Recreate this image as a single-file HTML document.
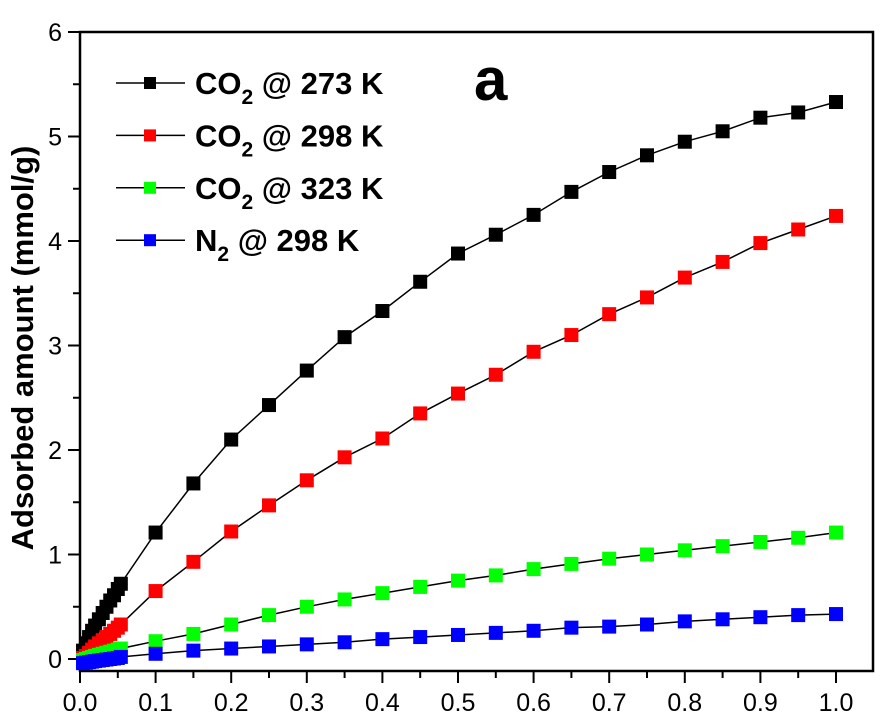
<!DOCTYPE html>
<html><head><meta charset="utf-8"><style>
html,body{margin:0;padding:0;background:#fff;}
svg{display:block;font-family:"Liberation Sans",Arial,sans-serif;}
</style></head><body>
<svg id="chart" width="896" height="720" viewBox="0 0 896 720" xmlns="http://www.w3.org/2000/svg"></svg>
<script>
const xTicks=[0,0.1,0.2,0.3,0.4,0.5,0.6,0.7,0.8,0.9,1.0];
const xTickLabels=["0.0","0.1","0.2","0.3","0.4","0.5","0.6","0.7","0.8","0.9","1.0"];
const yTicks=[0,1,2,3,4,5,6];
const yTickLabels=["0","1","2","3","4","5","6"];
const pHigh=[0.1,0.15,0.2,0.25,0.3,0.35,0.4,0.45,0.5,0.55,0.6,0.65,0.7,0.75,0.8,0.85,0.9,0.95,1.0];
const pLow=[0.004,0.008,0.012,0.016,0.02,0.025,0.03,0.035,0.04,0.045,0.05,0.054];
const co2_273_low=[0.08,0.15,0.21,0.27,0.32,0.38,0.44,0.5,0.56,0.61,0.67,0.72];
const co2_273_high=[1.21,1.68,2.1,2.43,2.76,3.08,3.33,3.61,3.88,4.06,4.25,4.47,4.66,4.82,4.95,5.05,5.18,5.23,5.33];
const co2_298_low=[0.01,0.03,0.06,0.09,0.12,0.15,0.18,0.21,0.24,0.27,0.3,0.33];
const co2_298_high=[0.65,0.93,1.22,1.47,1.71,1.93,2.11,2.35,2.54,2.72,2.94,3.1,3.3,3.46,3.65,3.8,3.98,4.11,4.24];
const co2_323_low=[-0.01,0.0,0.01,0.02,0.03,0.04,0.05,0.06,0.07,0.08,0.09,0.1];
const co2_323_high=[0.17,0.24,0.33,0.42,0.5,0.57,0.63,0.69,0.75,0.8,0.86,0.91,0.96,1.0,1.04,1.08,1.12,1.16,1.21];
const n2_low=[-0.04,-0.035,-0.03,-0.025,-0.02,-0.015,-0.01,-0.005,0.0,0.005,0.01,0.02];
const n2_high=[0.05,0.08,0.1,0.12,0.14,0.16,0.19,0.21,0.23,0.25,0.27,0.3,0.31,0.33,0.36,0.38,0.4,0.42,0.43];

const NS="http://www.w3.org/2000/svg";
const svg=document.getElementById('chart');
const L=80,R=873,T=32,B=671;
function sx(v){return 80+v*756;}
function sy(v){return 659-v*104.5;}
function mk(tag,attrs,parent){const e=document.createElementNS(NS,tag);for(const k in attrs)e.setAttribute(k,attrs[k]);(parent||svg).appendChild(e);return e;}

const frame=mk('rect',{x:L,y:T,width:R-L,height:B-T,fill:'none',stroke:'#000','stroke-width':2.5});



for(let i=0;i<xTicks.length;i++){
  const x=sx(xTicks[i]);
  const t=mk('line',{x1:x,y1:B,x2:x,y2:B+12,stroke:'#000','stroke-width':2});
  
  
  const tx=mk('text',{x:x,y:B+40,'font-size':25,'text-anchor':'middle',fill:'#000'});
  tx.textContent=xTickLabels[i];
  
  
  if(i<xTicks.length-1){
    const xm=sx(xTicks[i]+0.05);
    const m=mk('line',{x1:xm,y1:B,x2:xm,y2:B+7,stroke:'#000','stroke-width':2});
    
    
  }
}
for(let i=0;i<yTicks.length;i++){
  const y=sy(yTicks[i]);
  const t=mk('line',{x1:L-12,y1:y,x2:L,y2:y,stroke:'#000','stroke-width':2});
  
  
  const tx=mk('text',{x:L-18,y:y+9,'font-size':25,'text-anchor':'end',fill:'#000'});
  tx.textContent=yTickLabels[i];
  
  
  if(i<yTicks.length-1){
    const ym=sy(yTicks[i]+0.5);
    const m=mk('line',{x1:L-7,y1:ym,x2:L,y2:ym,stroke:'#000','stroke-width':2});
    
    
  }
}
const yt=mk('text',{x:0,y:0,'font-size':31,'font-weight':'bold','text-anchor':'middle',transform:'translate(33,348) rotate(-90)',fill:'#000'});
yt.textContent='Adsorbed amount (mmol/g)';



const series=[
 {name:'co2-273k',color:'#000',low:co2_273_low,high:co2_273_high},
 {name:'co2-298k',color:'#ff0000',low:co2_298_low,high:co2_298_high},
 {name:'co2-323k',color:'#00ff00',low:co2_323_low,high:co2_323_high},
 {name:'n2-298k',color:'#0000ff',low:n2_low,high:n2_high}
];
const S=14;
series.forEach(s=>{
  const g=mk('g',{});
  
  
  const xs=pLow.concat(pHigh), ys=s.low.concat(s.high);
  let d='M'+sx(0)+' '+sy(0);
  for(let i=0;i<xs.length;i++) d+=' L'+sx(xs[i]).toFixed(1)+' '+sy(ys[i]).toFixed(1);
  const ln=mk('path',{d:d,fill:'none',stroke:'#000','stroke-width':1.5},g);
  
  
  for(let i=0;i<xs.length;i++){
    const r=mk('rect',{x:sx(xs[i])-S/2,y:sy(ys[i])-S/2,width:S,height:S,fill:s.color},g);
    
    
  }
});

const legend=[["CO","2"," @ 273 K","#000"],["CO","2"," @ 298 K","#ff0000"],["CO","2"," @ 323 K","#00ff00"],["N","2"," @ 298 K","#0000ff"]];
const lg=mk('g',{});


legend.forEach((e,i)=>{
  const y=83+i*52.4;
  const g=mk('g',{},lg);
  
  
  mk('line',{x1:116,y1:y,x2:185,y2:y,stroke:'#000','stroke-width':1.5},g);
  mk('rect',{x:144,y:y-6,width:12,height:12,fill:e[3]},g);
  const t=mk('text',{x:195,y:y+11,'font-size':31,'font-weight':'bold',fill:'#000'},g);
  const a=mk('tspan',{},t);a.textContent=e[0];
  const b=mk('tspan',{'font-size':21,dy:10},t);b.textContent=e[1];
  const c=mk('tspan',{dy:-10},t);c.textContent=e[2];
});
const pl=mk('text',{x:474,y:100,'font-size':60,'font-weight':'bold',fill:'#000'});
pl.textContent='a';


</script>
</body></html>
